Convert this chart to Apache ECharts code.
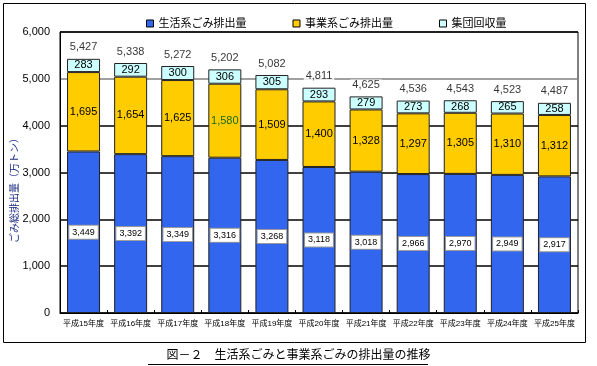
<!DOCTYPE html>
<html><head><meta charset="utf-8">
<script src="https://cdn.jsdelivr.net/npm/echarts@6/dist/echarts.min.js"></script>
<style>html,body{margin:0;padding:0;background:#fff}#c{width:597px;height:366px}</style>
</head><body><div id="c"></div>
<script>
const categories = ['平成15年度','平成16年度','平成17年度','平成18年度','平成19年度','平成20年度','平成21年度','平成22年度','平成23年度','平成24年度','平成25年度'];
const household = [3449,3392,3349,3316,3268,3118,3018,2966,2970,2949,2917];
const business = [1695,1654,1625,1580,1509,1400,1328,1297,1305,1310,1312];
const collection = [283,292,300,306,305,293,279,273,268,265,258];
const totals = [5427,5338,5272,5202,5082,4811,4625,4536,4543,4523,4487];
const yTicks = [0,1000,2000,3000,4000,5000,6000];

const fmt = v => Number(v).toLocaleString('en-US');
const chart = echarts.init(document.getElementById('c'));
const font = 'Arial, "Liberation Sans", "Noto Sans CJK JP", sans-serif';
chart.setOption({
  animation:false,
  textStyle:{fontFamily:font},
  legend:{top:13,left:141,itemWidth:7,itemHeight:7,itemGap:46,icon:'rect',
    textStyle:{fontSize:11,color:'#000',fontFamily:font},
    data:[{name:'生活系ごみ排出量',itemStyle:{borderColor:'#000',borderWidth:1}},
          {name:'事業系ごみ排出量',itemStyle:{borderColor:'#000',borderWidth:1}},
          {name:'集団回収量',itemStyle:{borderColor:'#000',borderWidth:1}}]},
  grid:{left:60,right:19,top:32,bottom:53,show:true,borderColor:'#000',borderWidth:1},
  xAxis:{type:'category',data:categories,
    axisLine:{lineStyle:{color:'#000'}},
    axisTick:{show:true,inside:true,length:3,lineStyle:{color:'#000'}},
    axisLabel:{fontSize:8,color:'#000',margin:7,interval:0}},
  yAxis:{type:'value',min:0,max:6000,interval:1000,
    axisLine:{show:true,lineStyle:{color:'#000'}},
    axisTick:{show:false},
    splitLine:{lineStyle:{color:['#000','#000','#000','#000','#000','#808080','#000'],width:1.5}},
    axisLabel:{fontSize:11,color:'#000',margin:10,formatter:v=>yTicks.includes(v)?fmt(v):''}},
  series:[
    {name:'生活系ごみ排出量',type:'bar',stack:'t',barWidth:33,data:household,
      itemStyle:{color:'#3366EE',borderColor:'#222',borderWidth:1},
      label:{show:true,position:'inside',fontSize:9,color:'#000',backgroundColor:'#fff',
        borderColor:'#999',borderWidth:1,padding:[2,3],formatter:p=>fmt(p.value)}},
    {name:'事業系ごみ排出量',type:'bar',stack:'t',
      data:business.map((v,i)=> i===3?{value:v,label:{color:'#1a6a1a'}}:v),
      itemStyle:{color:'#FFCC00',borderColor:'#222',borderWidth:1},
      label:{show:true,position:'inside',fontSize:11,color:'#000',formatter:p=>fmt(p.value)}},
    {name:'集団回収量',type:'bar',stack:'t',data:collection,
      itemStyle:{color:'#CCFFFF',borderColor:'#222',borderWidth:1},
      label:{show:true,position:'inside',fontSize:11,color:'#000',formatter:p=>fmt(p.value)}},
    {name:'total',type:'scatter',data:totals,symbolSize:0,silent:true,z:10,
      label:{show:true,position:'top',distance:6,fontSize:11,color:'#000',
        backgroundColor:'#fff',padding:[0,2],formatter:p=>fmt(p.value)}}
  ],
  graphic:[
    {type:'rect',shape:{x:3.5,y:3.5,width:582,height:339},style:{fill:'none',stroke:'#000',lineWidth:1},z:-1},
    {type:'text',x:14,y:188,rotation:Math.PI/2,
      style:{text:'ごみ総排出量（万トン）',fontSize:10,fill:'#1a2a80',align:'center',verticalAlign:'middle',fontFamily:'"Noto Sans CJK JP", sans-serif'}},
    {type:'text',left:'center',top:348,style:{text:'図－２　生活系ごみと事業系ごみの排出量の推移',fontSize:12,fill:'#000',fontFamily:'"Noto Sans CJK JP", sans-serif'}},
    {type:'line',shape:{x1:148,y1:364.5,x2:428,y2:364.5},style:{stroke:'#000',lineWidth:1}}
  ]
});
</script></body></html>
